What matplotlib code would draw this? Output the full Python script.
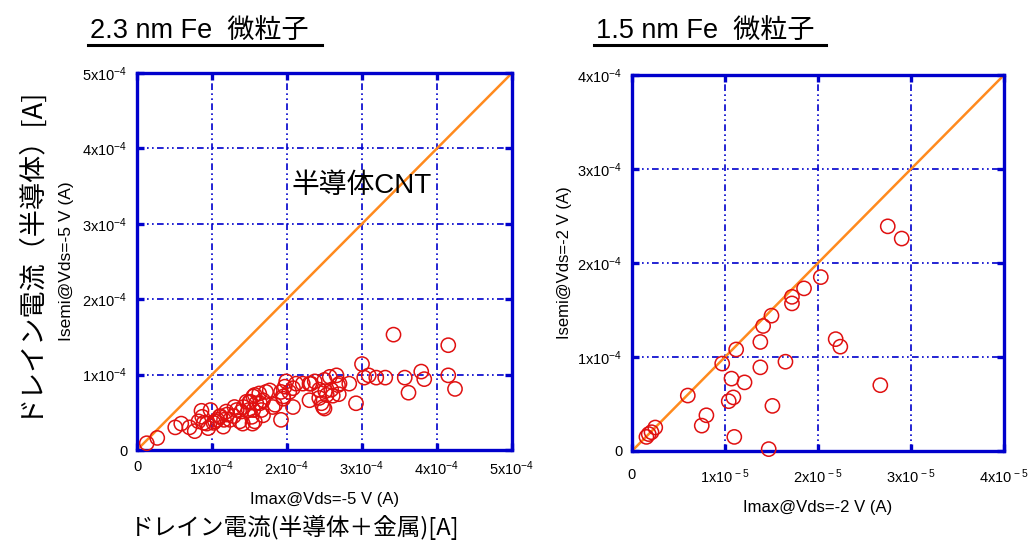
import matplotlib
matplotlib.use("Agg")
import matplotlib.pyplot as plt
from matplotlib.lines import Line2D
from matplotlib.ticker import FixedLocator
import numpy as np

plt.rcParams['font.family'] = ['Liberation Sans', 'Noto Sans CJK JP', 'DejaVu Sans']
plt.rcParams['mathtext.fontset'] = 'custom'
plt.rcParams['mathtext.rm'] = 'Liberation Sans'
plt.rcParams['mathtext.it'] = 'Liberation Sans:italic'
plt.rcParams['mathtext.bf'] = 'Liberation Sans:bold'

# ---------------- data ----------------
# Left panel: 2.3 nm Fe, values in units of 1e-4 A
left_imax_e4 = [0.13, 0.27, 0.51, 0.59, 0.70, 0.77, 0.86, 0.87, 0.82, 0.93, 0.95,
                1.04, 1.10, 1.15, 1.19, 1.24, 1.30, 1.39, 1.41, 1.50, 1.54, 1.57,
                1.07, 1.02, 1.20, 1.29, 1.33, 1.37, 1.42, 1.46, 1.49, 1.51, 1.55,
                1.57, 1.16, 1.11, 0.98, 0.89,
                1.53, 1.59, 1.63, 1.66, 1.68, 1.68, 1.72, 1.77, 1.81, 1.84, 1.92,
                1.92, 1.95, 1.95, 1.97, 1.99, 1.64, 1.55,
                2.03, 2.08, 2.08, 2.12, 2.21, 2.30, 2.32, 2.37, 2.43, 2.43, 2.46,
                2.48, 2.50, 2.50, 2.51, 2.53, 2.57, 2.59, 2.61, 2.66, 2.68, 2.69,
                2.70, 2.83, 2.30,
                2.92, 3.00, 3.03, 3.09, 3.19, 3.31, 3.42, 3.57, 3.62, 3.79, 3.83,
                4.15, 4.15, 4.24]
left_isemi_e4 = [0.09, 0.16, 0.30, 0.35, 0.30, 0.25, 0.52, 0.44, 0.38, 0.35, 0.29,
                 0.38, 0.44, 0.31, 0.51, 0.40, 0.57, 0.51, 0.35, 0.64, 0.35, 0.73,
                 0.40, 0.36, 0.47, 0.45, 0.53, 0.38, 0.57, 0.64, 0.53, 0.64, 0.71,
                 0.38, 0.40, 0.45, 0.53, 0.36,
                 0.44, 0.62, 0.75, 0.53, 0.66, 0.46, 0.77, 0.79, 0.57, 0.60, 0.40,
                 0.77, 0.68, 0.71, 0.84, 0.91, 0.62, 0.53,
                 0.77, 0.57, 0.82, 0.88, 0.88, 0.66, 0.88, 0.91, 0.69, 0.80, 0.62,
                 0.57, 0.55, 0.93, 0.78, 0.73, 0.97, 0.80, 0.72, 0.99, 0.86, 0.74,
                 0.88, 0.88, 0.88,
                 0.62, 1.14, 0.96, 0.99, 0.96, 0.96, 1.53, 0.96, 0.76, 1.04, 0.94,
                 1.39, 0.99, 0.81]

# Right panel: 1.5 nm Fe, Imax in units of 1e-5 A, Isemi in units of 1e-4 A
right_imax_e5 = [2.03, 1.85, 1.72, 1.72, 1.50, 1.41, 1.38, 1.12, 0.97, 1.38, 1.65,
                 2.19, 2.24, 2.67, 1.07, 1.21, 1.09, 1.04, 0.60, 1.51, 0.80, 0.75,
                 1.10, 1.47, 0.25, 0.21, 0.155, 0.18, 2.75, 2.90]
right_isemi_e4 = [1.85, 1.73, 1.64, 1.57, 1.44, 1.33, 1.16, 1.08, 0.93, 0.89, 0.95,
                  1.19, 1.11, 0.70, 0.77, 0.73, 0.57, 0.53, 0.59, 0.48, 0.38, 0.27,
                  0.15, 0.02, 0.25, 0.20, 0.15, 0.18, 2.39, 2.26]

left_ticks = [0, 1e-4, 2e-4, 3e-4, 4e-4, 5e-4]
left_ticklabels = ['0', '1x10$^{-4}$', '2x10$^{-4}$', '3x10$^{-4}$', '4x10$^{-4}$', '5x10$^{-4}$']
right_xticks = [0, 1e-5, 2e-5, 3e-5, 4e-5]
right_xticklabels = ['0', '1x10$^{\\,-5}$', '2x10$^{\\,-5}$', '3x10$^{\\,-5}$', '4x10$^{\\,-5}$']
right_yticks = [0, 1e-4, 2e-4, 3e-4, 4e-4]
right_yticklabels = ['0', '1x10$^{-4}$', '2x10$^{-4}$', '3x10$^{-4}$', '4x10$^{-4}$']

BLUE = '#0000CC'
RED = '#E01010'
ORANGE = '#FF8A1E'

fig = plt.figure(figsize=(10.31, 5.45), dpi=100)
axL = fig.add_axes([137/1031, 1-450/545, 375/1031, 377/545])
axR = fig.add_axes([632/1031, 1-451/545, 372/1031, 376/545])


def style(ax, xt, xtl, yt, ytl, xpad=7):
    ax.set_xlim(xt[0], xt[-1])
    ax.set_ylim(yt[0], yt[-1])
    ax.xaxis.set_major_locator(FixedLocator(xt))
    ax.yaxis.set_major_locator(FixedLocator(yt))
    ax.set_xticklabels(xtl, fontsize=10.5)
    ax.set_yticklabels(ytl, fontsize=10.5)
    for s in ax.spines.values():
        s.set_color(BLUE)
        s.set_linewidth(2.4)
    ax.tick_params(direction='in', length=5, width=2.4, color=BLUE,
                   top=True, right=True, pad=7)
    ax.tick_params(axis='x', pad=xpad)
    ax.grid(True, color=BLUE, linestyle=(0, (4, 2, 1, 2, 1, 2)), linewidth=1.2)
    ax.set_axisbelow(True)


# Left
xL = np.array(left_imax_e4) * 1e-4
yL = np.array(left_isemi_e4) * 1e-4
axL.plot([0, 5e-4], [0, 5e-4], color=ORANGE, lw=1.8, zorder=2)
axL.scatter(xL, yL, s=105, facecolors='none', edgecolors=RED, linewidths=1.1, zorder=3, clip_on=False)
style(axL, left_ticks, left_ticklabels, left_ticks, left_ticklabels, xpad=7)
axL.set_xlabel('Imax@Vds=-5 V (A)', fontsize=12, labelpad=10)
axL.set_ylabel('Isemi@Vds=-5 V (A)', fontsize=12.5, labelpad=6)
axL.text(3.0e-4, 3.5e-4, '半導体CNT', fontsize=20, ha='center', va='center',
         family=['Liberation Sans', 'Noto Sans CJK JP'])

# Right
xR = np.array(right_imax_e5) * 1e-5
yR = np.array(right_isemi_e4) * 1e-4
axR.plot([0, 4e-5], [0, 4e-4], color=ORANGE, lw=1.8, zorder=2)
axR.scatter(xR, yR, s=105, facecolors='none', edgecolors=RED, linewidths=1.1, zorder=3, clip_on=False)
style(axR, right_xticks, right_xticklabels, right_yticks, right_yticklabels, xpad=12)
axR.set_xlabel('Imax@Vds=-2 V (A)', fontsize=12, labelpad=10)
axR.set_ylabel('Isemi@Vds=-2 V (A)', fontsize=12, labelpad=4)

# Titles with underline
jp = ['Liberation Sans', 'Noto Sans CJK JP']
fig.text(90/1031, 1-31/545, '2.3 nm Fe  微粒子', fontsize=19.5, ha='left', va='center', family=jp)
fig.text(596/1031, 1-31/545, '1.5 nm Fe  微粒子', fontsize=19.5, ha='left', va='center', family=jp)
fig.add_artist(Line2D([88/1031, 322/1031], [1-45/545, 1-45/545], color='black', lw=2.2))
fig.add_artist(Line2D([594/1031, 826/1031], [1-45/545, 1-45/545], color='black', lw=2.2))

# Japanese axis labels
fig.text(27/1031, 1-250/545, 'ドレイン電流（半導体）[A]', fontsize=19.5, rotation=90,
         ha='center', va='center', family=['Noto Sans CJK JP', 'DejaVu Sans'])
fig.text(295/1031, 1-527/545, 'ドレイン電流(半導体＋金属)[A]', fontsize=17,
         ha='center', va='center', family=['Noto Sans CJK JP', 'DejaVu Sans'])

fig.savefig('out.png', dpi=100)
